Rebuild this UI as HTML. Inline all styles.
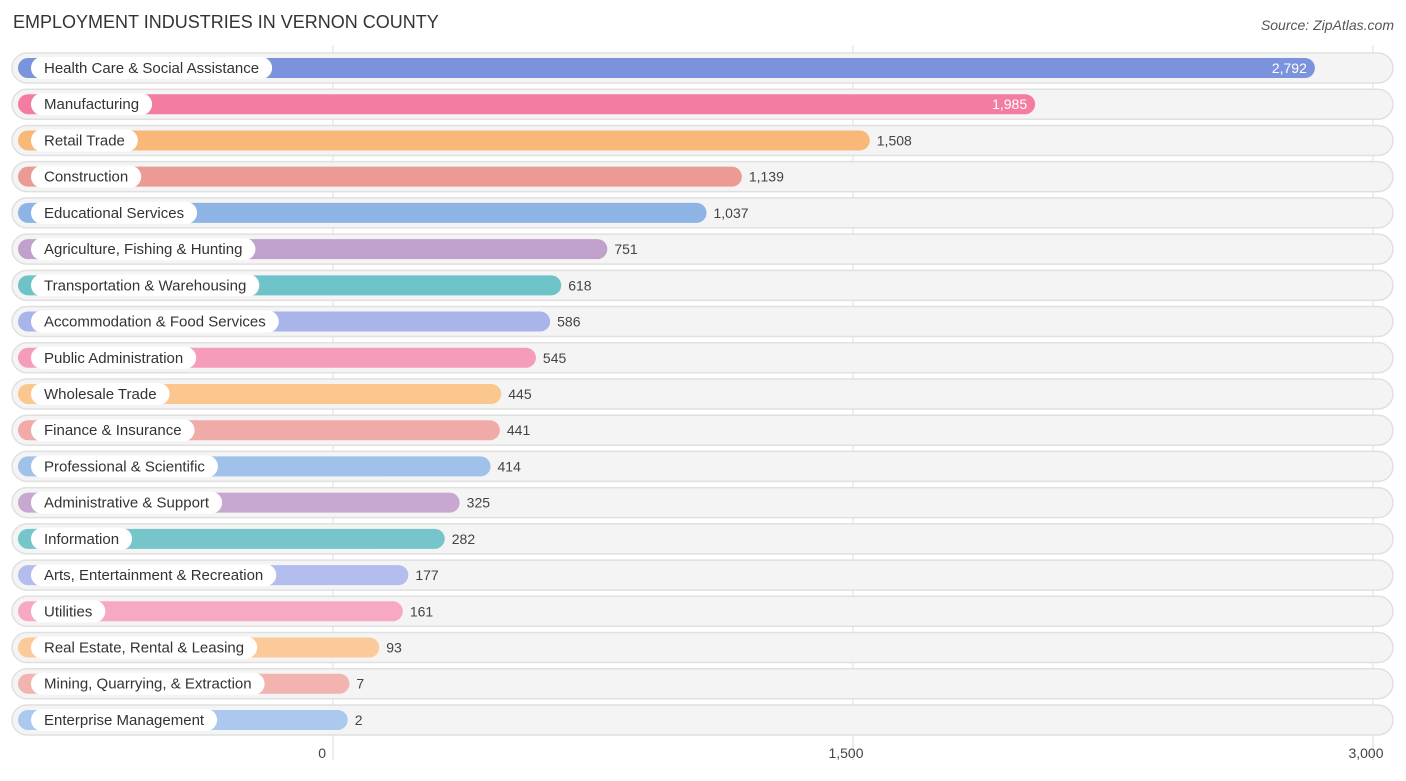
<!DOCTYPE html>
<html><head><meta charset="utf-8"><style>
body{margin:0;background:#fff;font-family:"Liberation Sans",sans-serif;}
svg text{font-family:"Liberation Sans",sans-serif;}
</style></head><body>
<svg id="chart" width="1406" height="776" xmlns="http://www.w3.org/2000/svg">
<text x="13" y="28" font-size="18" fill="#333">EMPLOYMENT INDUSTRIES IN VERNON COUNTY</text>
<text x="1394" y="30" font-size="14" fill="#555" font-style="italic" text-anchor="end">Source: ZipAtlas.com</text>
<g id="grid"></g><g id="rows"></g><g id="ticks"></g>
</svg>
<script>
const categories=["Health Care & Social Assistance","Manufacturing","Retail Trade","Construction","Educational Services","Agriculture, Fishing & Hunting","Transportation & Warehousing","Accommodation & Food Services","Public Administration","Wholesale Trade","Finance & Insurance","Professional & Scientific","Administrative & Support","Information","Arts, Entertainment & Recreation","Utilities","Real Estate, Rental & Leasing","Mining, Quarrying, & Extraction","Enterprise Management"];
const values=[2792,1985,1508,1139,1037,751,618,586,545,445,441,414,325,282,177,161,93,7,2];
const tickValues=[0,1500,3000];
const tickLabels=["0","1,500","3,000"];
const colors=["#7b93dc","#f47ca0","#f9b878","#eb9a94","#8db4e5","#c1a0cb","#6ec3c9","#a9b4ea","#f59cba","#fbc78f","#f0aaa8","#9fc1ea","#c8a8d0","#76c5cb","#b3bdee","#f7a8c2","#fcc99b","#f3b4b0","#abc8ee"];
const NS="http://www.w3.org/2000/svg";
const x=v=>333+v*(1040/3000);
const y=i=>68+i*36.22;
function mk(t,a,p){const e=document.createElementNS(NS,t);for(const k in a)e.setAttribute(k,a[k]);p.appendChild(e);return e;}
const grid=document.getElementById('grid'),rows=document.getElementById('rows'),ticks=document.getElementById('ticks');
tickValues.forEach((v,i)=>{
 const l=mk('line',{x1:x(v),x2:x(v),y1:45,y2:760,stroke:'#ddd','stroke-width':1},grid);
 
 
 const t=mk('text',{x:x(v)-7,y:758,'font-size':14,fill:'#444','text-anchor':i==2?'middle':'end'},ticks);
 if(i==1)t.setAttribute('text-anchor','middle');
 t.textContent=tickLabels[i];
 
 
});
categories.forEach((c,i)=>{
 const cy=y(i);
 const g=mk('g',{},rows);
 
 
 const bg=mk('rect',{x:12,y:cy-15,width:1381,height:30,rx:15,fill:'#f4f4f4',stroke:'#e0e0e0','stroke-width':1.5},g);
 
 
 const end=x(values[i])+14;
 const b=mk('rect',{x:18,y:cy-10,width:end-18,height:20,rx:10,fill:colors[i]},g);
 
 
 const lbl=mk('text',{x:44,y:cy+5,'font-size':15,fill:'#333'},g);
 lbl.textContent=c;
 
 
 const w=lbl.getComputedTextLength();
 const pill=mk('rect',{x:31,y:cy-11,width:w+26,height:22,rx:11,fill:'#fff'},g);
 
 
 g.insertBefore(pill,lbl);
 const inside=values[i]>1800;
 const vt=mk('text',{x:inside?end-8:end+7,y:cy+5,'font-size':14,fill:inside?'#fff':'#444','text-anchor':inside?'end':'start'},g);
 vt.textContent=values[i].toLocaleString('en-US');
 
 
});
</script>
</body></html>
